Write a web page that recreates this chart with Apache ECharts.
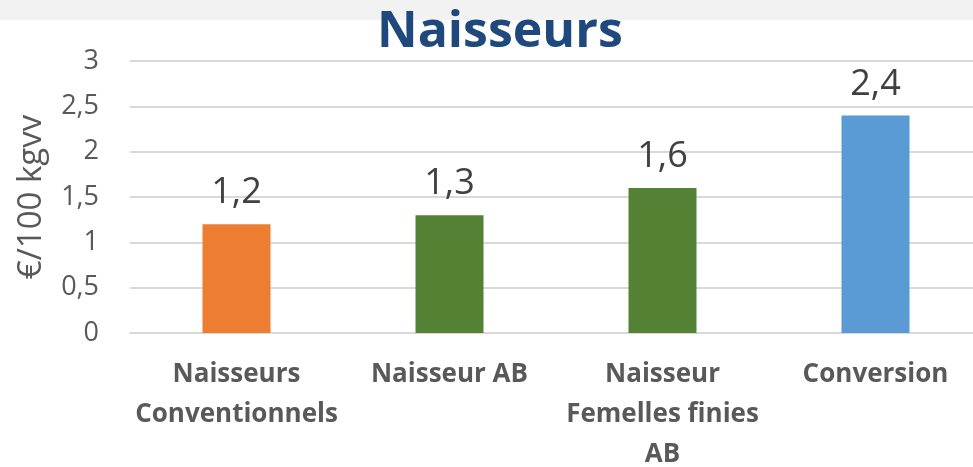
<!DOCTYPE html>
<html>
<head>
<meta charset="utf-8">
<style>
  html, body { margin: 0; padding: 0; background: #fff; }
  #main { width: 973px; height: 467px; }
</style>
<script src="https://cdn.jsdelivr.net/npm/echarts@6/dist/echarts.min.js"></script>
</head>
<body>
<div id="main"></div>
<script>
// données
let categories = ['Naisseurs\nConventionnels', 'Naisseur AB', 'Naisseur\nFemelles finies\nAB', 'Conversion'];
let values = [1.2, 1.3, 1.6, 2.4];
let barColors = ['#ED7D31', '#548235', '#548235', '#5B9BD5'];
let yTicks = [0, 0.5, 1, 1.5, 2, 2.5, 3];

let fmt = function (v) {
    return String(v).replace('.', ',');
};

let myChart = echarts.init(document.getElementById('main'));

let option = {
    animation: false,
    backgroundColor: '#fff',
    textStyle: { fontFamily: 'Open Sans' },
    title: {
        text: 'Naisseurs',
        left: 377,
        top: 8,
        padding: 0,
        textStyle: {
            fontFamily: 'Open Sans',
            fontWeight: 'bold',
            fontSize: 50,
            color: '#1F497D'
        }
    },
    graphic: [{
        type: 'rect',
        left: 0,
        top: 0,
        z: -10,
        shape: { width: 973, height: 20 },
        style: { fill: '#f2f2f2' }
    }],
    grid: {
        left: 130,
        top: 61,
        bottom: 134,
        width: 852,
        outerBoundsMode: 'none'
    },
    xAxis: {
        type: 'category',
        data: categories,
        axisTick: { show: false },
        axisLine: { lineStyle: { color: '#d9d9d9', width: 2 } },
        axisLabel: {
            interval: 0,
            margin: 22,
            fontFamily: 'Open Sans',
            fontWeight: 'bold',
            fontSize: 26,
            lineHeight: 40,
            color: '#595959'
        }
    },
    yAxis: {
        type: 'value',
        min: yTicks[0],
        max: yTicks[yTicks.length - 1],
        interval: 0.5,
        name: '€/100 kgvv',
        nameLocation: 'middle',
        nameGap: 82,
        nameTextStyle: {
            fontFamily: 'Open Sans',
            fontSize: 33,
            color: '#595959'
        },
        axisLabel: {
            margin: 31,
            fontFamily: 'Open Sans',
            fontSize: 27,
            color: '#595959',
            formatter: fmt
        },
        splitLine: { lineStyle: { color: '#d9d9d9', width: 2 } }
    },
    series: [{
        type: 'bar',
        barWidth: 68,
        data: values.map(function (v, i) {
            return { value: v, itemStyle: { color: barColors[i] } };
        }),
        label: {
            show: true,
            position: 'top',
            distance: 13,
            fontFamily: 'Open Sans',
            fontSize: 36,
            color: '#404040',
            formatter: function (p) { return fmt(p.value); }
        }
    }]
};

myChart.setOption(option, true);
</script>
</body>
</html>
